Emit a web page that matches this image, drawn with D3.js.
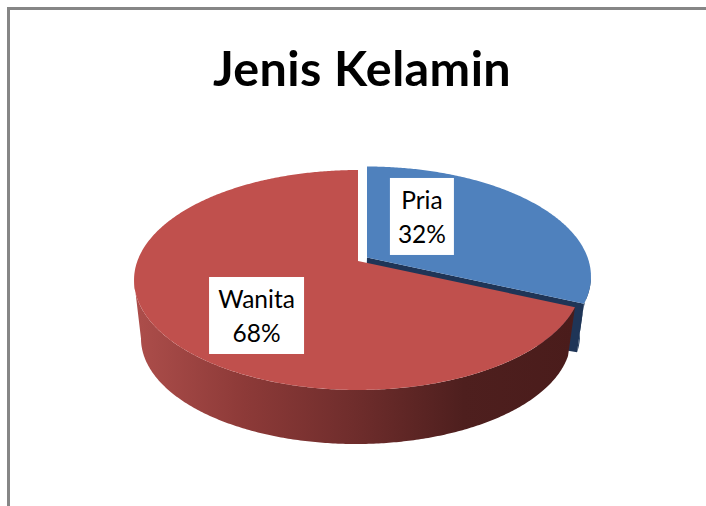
<!DOCTYPE html>
<html>
<head>
<meta charset="utf-8">
<script src="https://cdn.jsdelivr.net/npm/d3@7"></script>
<style>
  html, body { margin: 0; padding: 0; background: #fff; }
  svg { display: block; }
  text { font-family: Lato, "Open Sans", sans-serif; fill: #000; }
</style>
</head>
<body>
<div id="chart-area"></div>
<script>
var categories = ["Pria", "Wanita"];
var values = [31.6, 68.4];
var percentLabels = ["32%", "68%"];
var chartTitle = "Jenis Kelamin";

var width = 706;
var height = 506;

var sliceColors = ["#4f81bd", "#c0504d"];
var apexes = [[367, 257.5], [358, 261]];      // exploded slices, each has own apex
var labelNudge = [[-33.3, -13.2], [-4.5, 23.9]];
var labelBox = [[64, 77], [95, 77]];

// perspective of the tilted disc
var k = -0.1727, rx = 220.6, ry = 106.7;
var depth = 59.2, bottomScale = 0.96, bottomShift = -2;
var cornerSkew = 0.08;   // vertical edges lean inwards going down

function project(angle, r, apex, down) {
    var px = r * Math.sin(angle);
    var py = -r * Math.cos(angle);
    var w = 1 + k * py;
    var s = down ? bottomScale : 1;
    return [apex[0] + (down ? bottomShift : 0) + s * rx * px / w,
            apex[1] + (down ? depth : 0) + s * ry * py / w];
}

function rim(a0, a1, apex, down) {
    var n = Math.max(2, Math.ceil(Math.abs(a1 - a0) / 0.01));
    return d3.range(n + 1).map(function(i) {
        return project(a0 + (a1 - a0) * i / n, 1, apex, down);
    });
}

var line = d3.line();

var svg = d3.select("#chart-area")
    .append("svg")
        .attr("width", width)
        .attr("height", height);

var defs = svg.append("defs");

var redSide = defs.append("linearGradient")
    .attr("id", "red-side")
    .attr("gradientUnits", "userSpaceOnUse")
    .attr("x1", 134).attr("x2", 574).attr("y1", 0).attr("y2", 0);
[[0, "#ad4e4b"], [0.25, "#8d3a38"], [0.5, "#6f2d2c"], [0.75, "#4e1f1e"], [1, "#4a1c1b"]].forEach(function(s) {
    redSide.append("stop").attr("offset", s[0]).attr("stop-color", s[1]);
});

// frame, only top and left are inside the crop
svg.append("path")
    .attr("d", "M8.5,506V8.5H706")
    .attr("fill", "none")
    .attr("stroke", "#868686")
    .attr("stroke-width", 3);

svg.append("text")
    .attr("x", 362)
    .attr("y", 85.5)
    .attr("text-anchor", "middle")
    .attr("font-size", "48.5px")
    .attr("font-weight", "bold")
    .attr("letter-spacing", "0.4px")
    .text(chartTitle);

var arcs = d3.pie().sort(null)(values);

// widest point of the projected rim, the side wall stops there
var rightEdge = Math.PI / 2 - Math.asin(k);
var leftEdge = Math.PI * 1.5 + Math.asin(k);

// blue goes first, red sits in front of it
var pria = arcs[0], wanita = arcs[1];
var priaApex = apexes[0], wanitaApex = apexes[1];

var priaCorner = project(pria.endAngle, 1, priaApex, false);
var priaCornerLow = project(pria.endAngle - cornerSkew, 1, priaApex, true);

svg.append("path")
    .attr("d", line(rim(rightEdge, pria.endAngle, priaApex, false)
        .concat(rim(pria.endAngle - cornerSkew, rightEdge - cornerSkew, priaApex, true))) + "Z")
    .attr("fill", "#1f3a5c");

svg.append("path")
    .attr("d", line([priaApex, priaCorner, priaCornerLow,
        [priaApex[0] + bottomShift, priaApex[1] + depth]]) + "Z")
    .attr("fill", "#1f3557");

svg.append("path")
    .attr("d", line([priaApex].concat(rim(pria.startAngle, pria.endAngle, priaApex, false))) + "Z")
    .attr("fill", sliceColors[0]);

svg.append("path")
    .attr("d", line(rim(wanita.startAngle, leftEdge, wanitaApex, false)
        .concat(rim(leftEdge, wanita.startAngle - cornerSkew, wanitaApex, true))) + "Z")
    .attr("fill", "url(#red-side)");

svg.append("path")
    .attr("d", line([wanitaApex].concat(rim(wanita.startAngle, wanita.endAngle, wanitaApex, false))) + "Z")
    .attr("fill", sliceColors[1]);

// labels
arcs.forEach(function(d, i) {
    var mid = (d.startAngle + d.endAngle) / 2;
    var p = project(mid, 0.5, apexes[i], false);
    var cx = p[0] + labelNudge[i][0];
    var cy = p[1] + labelNudge[i][1];
    var g = svg.append("g").attr("transform", "translate(" + cx + "," + cy + ")");

    g.append("rect")
        .attr("x", -labelBox[i][0] / 2)
        .attr("y", -labelBox[i][1] / 2)
        .attr("width", labelBox[i][0])
        .attr("height", labelBox[i][1])
        .attr("fill", "#fff");

    g.append("text")
        .attr("text-anchor", "middle")
        .attr("y", -7.5)
        .attr("font-size", "24.5px")
        .text(categories[i]);

    g.append("text")
        .attr("text-anchor", "middle")
        .attr("y", 26.5)
        .attr("font-size", "24.5px")
        .text(percentLabels[i]);
});
</script>
</body>
</html>
